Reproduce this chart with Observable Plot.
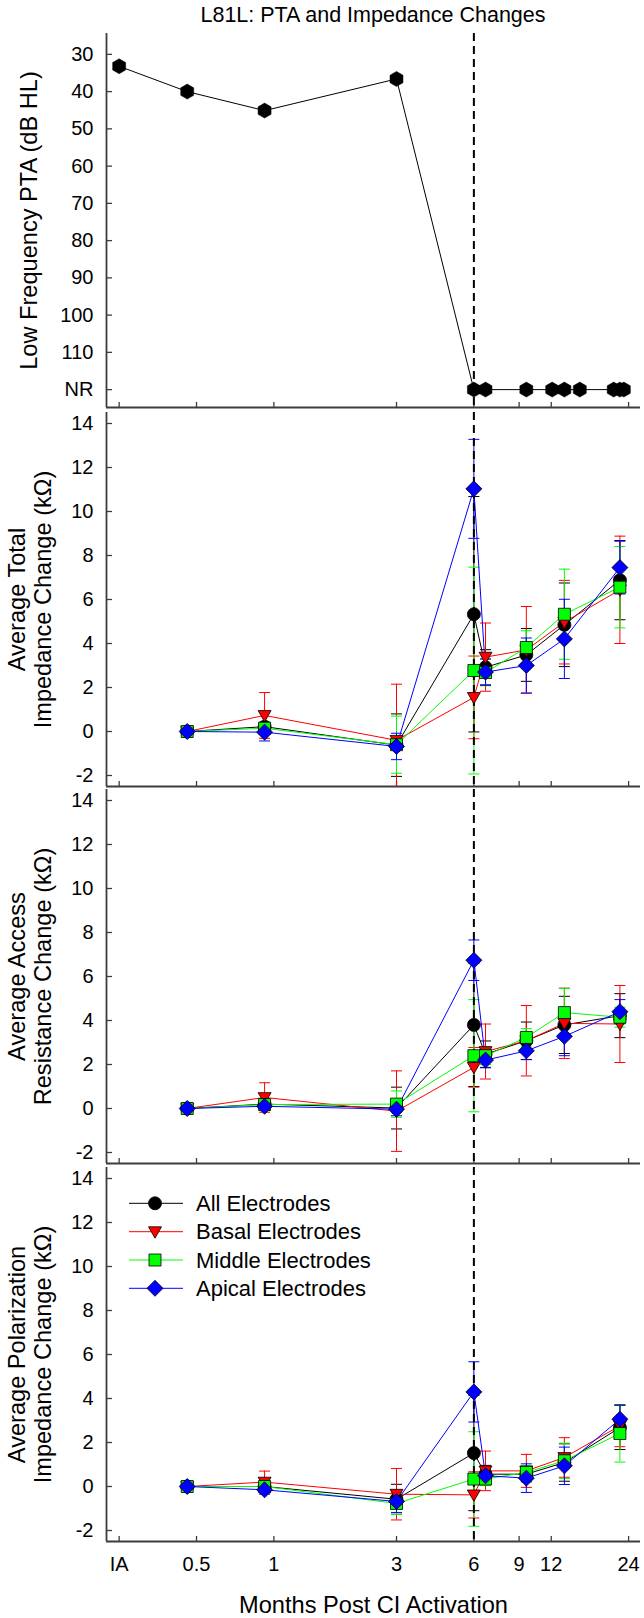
<!DOCTYPE html>
<html><head><meta charset="utf-8">
<script src="https://cdn.jsdelivr.net/npm/d3@7"></script>
<script src="https://cdn.jsdelivr.net/npm/@observablehq/plot@0.6"></script>
<style>
body{margin:0;background:#fff;font-family:"Liberation Sans",Arial,sans-serif;}
#wrap{position:relative;width:644px;height:1618px;overflow:hidden;}
#title{height:28px;width:534px;margin-left:106px;text-align:center;font-size:21.5px;line-height:30px;color:#000;white-space:nowrap;}
#charts svg{display:block;}
#legend{position:absolute;left:0;top:1190px;}
</style></head><body>
<div id="wrap">
<div id="title">L81L: PTA and Impedance Changes</div>
<div id="charts"></div>
<svg id="legend" width="420" height="112"></svg>
</div>
<script>
// ---------- data ----------
const monthTicks = [0.25, 0.5, 1, 3, 6, 9, 12, 24];
const monthTickLabels = ["IA", "0.5", "1", "3", "6", "9", "12", "24"];
const activationMonth = [6];

const NR = 120;
const ptaMonths = [0.25, 0.46, 0.92, 3.0, 6.0, 6.66, 9.6, 12.1, 13.5, 15.5, 21.0, 22.2, 23.0];
const ptaValues = [33.2, 40.0, 45.1, 36.6, NR, NR, NR, NR, NR, NR, NR, NR, NR];
const ptaTicks = [30, 40, 50, 60, 70, 80, 90, 100, 110, 120];
const ptaTickLabels = ["30", "40", "50", "60", "70", "80", "90", "100", "110", "NR"];

const impMonths = [0.46, 0.92, 3.0, 6.0, 6.66, 9.6, 13.5, 22.2];
const impTicks = [-2, 0, 2, 4, 6, 8, 10, 12, 14];

const seriesNames = ["All Electrodes", "Basal Electrodes", "Middle Electrodes", "Apical Electrodes"];
const seriesColors = ["#000000", "#ff0000", "#00ff00", "#0000ff"];

// Total impedance
const totalAll      = [0, 0.22, -0.62, 5.33, 2.92, 3.48, 4.85, 6.88];
const totalAllErr   = [0.1, 0.2, 1.42, 5.35, 0.8, 1.2, 1.9, 1.8];
const totalBasal    = [0, 0.73, -0.40, 1.55, 3.38, 3.71, 4.97, 6.44];
const totalBasalErr = [0.1, 1.04, 2.55, 1.88, 1.55, 1.97, 1.9, 2.44];
const totalMiddle   = [0, 0.15, -0.60, 2.77, 2.68, 3.82, 5.33, 6.56];
const totalMiddleErr= [0.1, 0.2, 1.3, 4.7, 0.6, 0.76, 2.05, 1.85];
const totalApical   = [0, -0.03, -0.68, 11.03, 2.70, 3.00, 4.21, 7.45];
const totalApicalErr= [0.1, 0.4, 0.6, 2.25, 0.6, 1.25, 1.8, 1.2];

// Access resistance
const accessAll      = [0, 0.20, 0.02, 3.80, 2.47, 3.08, 3.80, 4.22];
const accessAllErr   = [0.08, 0.15, 0.95, 2.8, 0.6, 0.85, 1.3, 1.0];
const accessBasal    = [0, 0.50, -0.12, 1.87, 2.59, 3.08, 3.87, 3.84];
const accessBasalErr = [0.08, 0.67, 1.83, 0.9, 1.25, 1.6, 1.6, 1.75];
const accessMiddle   = [0, 0.18, 0.20, 2.40, 2.40, 3.23, 4.36, 4.15];
const accessMiddleErr= [0.08, 0.12, 0.6, 2.55, 0.4, 0.4, 1.1, 0.45];
const accessApical   = [0, 0.10, -0.03, 6.74, 2.20, 2.62, 3.28, 4.40];
const accessApicalErr= [0.08, 0.12, 0.3, 0.92, 0.35, 0.4, 0.88, 0.55];

// Polarization impedance
const polAll      = [0, 0.00, -0.58, 1.52, 0.56, 0.56, 1.09, 2.68];
const polAllErr   = [0.08, 0.1, 0.68, 2.62, 0.4, 0.35, 0.85, 1.0];
const polBasal    = [0, 0.20, -0.35, -0.38, 0.71, 0.71, 1.32, 2.76];
const polBasalErr = [0.08, 0.5, 1.17, 1.05, 0.9, 0.75, 0.9, 0.95];
const polMiddle   = [0, 0.00, -0.77, 0.34, 0.34, 0.64, 1.17, 2.41];
const polMiddleErr= [0.08, 0.1, 0.5, 2.15, 0.3, 0.3, 0.8, 1.3];
const polApical   = [0, -0.15, -0.68, 4.30, 0.49, 0.38, 0.94, 3.06];
const polApicalErr= [0.08, 0.2, 0.5, 1.37, 0.3, 0.65, 0.85, 0.65];

// ---------- symbols ----------
function sym(fn) { return {draw(ctx, size) { fn(ctx, Math.sqrt(size / Math.PI)); }}; }
const symCircle = sym((c, r) => { c.moveTo(r, 0); c.arc(0, 0, r, 0, 2 * Math.PI); c.closePath(); });
const symDown = sym((c, r) => { c.moveTo(-r, -r * 0.75); c.lineTo(r, -r * 0.75); c.lineTo(0, r * 1.0); c.closePath(); });
const symSquare = sym((c, r) => { c.rect(-r, -r, 2 * r, 2 * r); });
const symDiamond = sym((c, r) => { c.moveTo(0, -r); c.lineTo(r, 0); c.lineTo(0, r); c.lineTo(-r, 0); c.closePath(); });
const symHex = sym((c, r) => { for (let k = 0; k < 6; k++) { const a = Math.PI / 2 + k * Math.PI / 3; const px = r * Math.cos(a), py = r * Math.sin(a); if (k) c.lineTo(px, py); else c.moveTo(px, py); } c.closePath(); });
const symCap = sym((c, r) => { c.moveTo(-r, 0); c.lineTo(r, 0); });
const seriesSymbols = [symCircle, symDown, symSquare, symDiamond];
const seriesSizes = [6.5, 6.5, 6, 8];

// ---------- layout ----------
const W = 644, ML = 106, MR = 4;
const xDomain = [0.2232, 26.7];
const impDomain = [-2.5, 14.5];
const ptaDomain = [124.8, 24.4];
const axisColor = "#3c3c3c";
const FONT = "Liberation Sans, Arial, sans-serif";
const TICK_FS = 20;
const TITLE_FS = 23.6;

function frameMarks(yDomain, yTicks, yLabels, showXLabels) {
  const m = [
    Plot.axisY({ticks: yTicks, tickSize: -6, fill: "none", stroke: axisColor, strokeWidth: 1.3, label: null}),
    Plot.text(yTicks, {y: d => d, frameAnchor: "left", dx: -13, textAnchor: "end", text: d => yLabels[yTicks.indexOf(d)], fontSize: TICK_FS, fill: "#000"}),
    Plot.axisX({ticks: monthTicks, tickSize: -5, fill: "none", stroke: axisColor, strokeWidth: 1.3, label: null}),
    Plot.ruleX([xDomain[0]], {stroke: axisColor, strokeWidth: 1.8}),
    Plot.ruleY([yDomain[0]], {stroke: axisColor, strokeWidth: 1.8})
  ];
  if (showXLabels) {
    m.push(Plot.text(monthTicks, {x: d => d, frameAnchor: "bottom", dy: 15, lineAnchor: "top", text: d => monthTickLabels[monthTicks.indexOf(d)], fontSize: TICK_FS, fill: "#000"}));
  }
  return m;
}

function yTitle(text, dx) {
  return Plot.text([text], {frameAnchor: "left", rotate: -90, dx, text: d => d, fontSize: TITLE_FS, lineHeight: 1.1, textAnchor: "middle", lineAnchor: "middle", fill: "#000"});
}

function base(height, marginTop, marginBottom, yDomain, marks) {
  return Plot.plot({
    width: W, height, marginLeft: ML, marginRight: MR, marginTop, marginBottom,
    style: {fontFamily: FONT, fontSize: "18px", color: "#000", background: "#fff", overflow: "visible"},
    x: {type: "log", domain: xDomain, axis: null},
    y: {domain: yDomain, axis: null},
    marks
  });
}

const charts = document.getElementById("charts");

// Panel 1: PTA
const ptaRows = ptaMonths.map((m, i) => ({month: m, value: ptaValues[i]}));
charts.append(base(381, 5, 2, ptaDomain, [
  ...frameMarks(ptaDomain, ptaTicks, ptaTickLabels, false),
  Plot.line(ptaRows, {x: "month", y: "value", stroke: "#000", strokeWidth: 1}),
  Plot.ruleX(activationMonth, {stroke: "#000", strokeWidth: 2, strokeDasharray: "8,5"}),
  Plot.dot(ptaRows, {x: "month", y: "value", symbol: symHex, r: 7.5, fill: "#000", stroke: "#000", strokeWidth: 0.5}),
  yTitle("Low Frequency PTA (dB HL)", -78)
]));

function impedancePanel(height, marginTop, marginBottom, means, errs, title, showX) {
  const rows = means.map((arr, si) => impMonths.map((m, i) => ({s: si, month: m, value: arr[i], err: errs[si][i]})));
  const marks = [...frameMarks(impDomain, impTicks, impTicks.map(String), showX)];
  rows.forEach((r, si) => {
    marks.push(Plot.ruleX(r, {x: "month", y1: d => d.value - d.err, y2: d => d.value + d.err, stroke: seriesColors[si], strokeWidth: 1, clip: true}));
    marks.push(Plot.dot(r, {x: "month", y: d => d.value + d.err, symbol: symCap, r: 5.5, fill: "none", stroke: seriesColors[si], strokeWidth: 1, clip: true}));
    marks.push(Plot.dot(r.filter(d => d.value - d.err > impDomain[0]), {x: "month", y: d => d.value - d.err, symbol: symCap, r: 5.5, fill: "none", stroke: seriesColors[si], strokeWidth: 1, clip: true}));
    marks.push(Plot.line(r, {x: "month", y: "value", stroke: seriesColors[si], strokeWidth: 1}));
  });
  marks.push(Plot.ruleX(activationMonth, {stroke: "#000", strokeWidth: 2, strokeDasharray: "8,5"}));
  rows.forEach((r, si) => {
    marks.push(Plot.dot(r, {x: "month", y: "value", symbol: seriesSymbols[si], r: seriesSizes[si], fill: seriesColors[si], stroke: "#000", strokeWidth: 0.8}));
  });
  marks.push(yTitle(title, -76.5));
  if (showX) {
    marks.push(Plot.text(["Months Post CI Activation"], {frameAnchor: "bottom", dy: 64, text: d => d, fontSize: TITLE_FS, fill: "#000", lineAnchor: "middle"}));
  }
  return base(height, marginTop, marginBottom, impDomain, marks);
}

charts.append(impedancePanel(379, 3, 2,
  [totalAll, totalBasal, totalMiddle, totalApical],
  [totalAllErr, totalBasalErr, totalMiddleErr, totalApicalErr],
  "Average Total\nImpedance Change (kΩ)", false));
charts.append(impedancePanel(377, 1, 2,
  [accessAll, accessBasal, accessMiddle, accessApical],
  [accessAllErr, accessBasalErr, accessMiddleErr, accessApicalErr],
  "Average Access\nResistance Change (kΩ)", false));
charts.append(impedancePanel(453, 2, 77,
  [polAll, polBasal, polMiddle, polApical],
  [polAllErr, polBasalErr, polMiddleErr, polApicalErr],
  "Average Polarization\nImpedance Change (kΩ)", true));

// ---------- legend ----------
const leg = d3.select("#legend");
const rowY = [13.3, 41.7, 70, 98.3];
seriesNames.forEach((name, si) => {
  const g = leg.append("g").attr("transform", `translate(0,${rowY[si]})`);
  g.append("line").attr("x1", 129).attr("x2", 183).attr("y1", 0).attr("y2", 0).attr("stroke", seriesColors[si]).attr("stroke-width", 1);
  const p = d3.path();
  const r = seriesSizes[si];
  seriesSymbols[si].draw(p, Math.PI * r * r);
  g.append("path").attr("d", p.toString()).attr("transform", "translate(155,0)").attr("fill", seriesColors[si]).attr("stroke", "#000").attr("stroke-width", 0.8);
  g.append("text").attr("x", 196).attr("y", 0).attr("dy", "0.35em").attr("font-size", 22).attr("font-family", FONT).attr("fill", "#000").text(name);
});
</script>
</body></html>
